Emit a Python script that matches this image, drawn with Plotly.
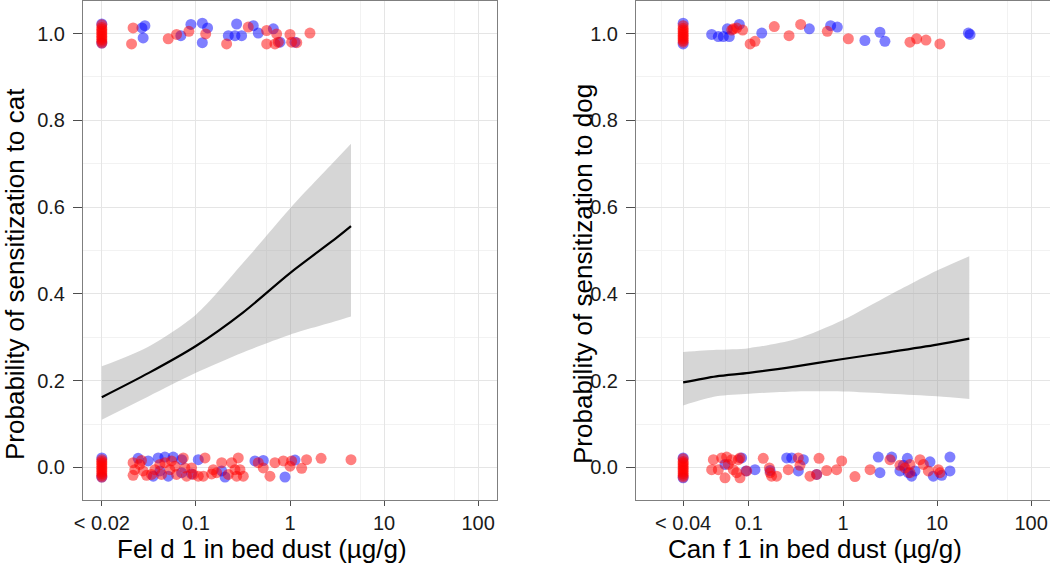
import plotly.graph_objects as go

# ---------------- data ----------------
# fitted curves (concentration in ug/g, probability)
cat_curve_x = [0.01, 0.0316, 0.1, 0.316, 1.0, 3.16, 4.45]
cat_fit = [0.162, 0.218, 0.280, 0.357, 0.448, 0.530, 0.556]
cat_upper = [0.233, 0.279, 0.352, 0.471, 0.597, 0.712, 0.746]
cat_lower = [0.110, 0.164, 0.218, 0.265, 0.306, 0.338, 0.348]

dog_curve_x = [0.02, 0.045, 0.1, 0.316, 1.0, 3.16, 10.0, 22.0]
dog_fit = [0.196, 0.210, 0.218, 0.233, 0.250, 0.266, 0.283, 0.297]
dog_upper = [0.266, 0.271, 0.275, 0.296, 0.340, 0.398, 0.454, 0.487]
dog_lower = [0.143, 0.164, 0.170, 0.175, 0.175, 0.170, 0.164, 0.158]

# observed (jittered) points - cat panel
cat_blue_x = [0.01, 0.01, 0.01, 0.01,
              0.0243, 0.0311, 0.0397, 0.0468, 0.0574, 0.0705, 0.106, 0.188, 0.204,
              0.424, 0.520, 1.13, 0.885, 0.0352, 0.0508, 0.0900, 0.0705, 0.0414,
              0.0287, 0.0267, 0.0275, 0.0885, 0.117, 0.133, 0.117, 0.0692, 0.221,
              0.271, 0.260, 0.306, 0.407, 0.460, 0.665, 0.783, 1.13]
cat_blue_y = [-0.022, 0.022, 0.978, 1.022,
              0.021, 0.015, 0.022, 0.024, 0.024, 0.018, 0.018, -0.008, -0.022,
              0.015, 0.016, 0.017, -0.022, -0.020, -0.020, -0.015, -0.012, -0.008,
              1.018, 1.013, 0.990, 1.021, 1.024, 1.013, 0.979, 0.995, 0.995,
              1.022, 0.995, 0.995, 1.018, 1.001, 1.011, 0.980, 0.980]
cat_red_x = [0.01, 0.01, 0.01, 0.01, 0.01, 0.01, 0.01, 0.01, 0.01, 0.01, 0.01,
             0.01, 0.01, 0.01, 0.01, 0.01, 0.01, 0.01, 0.01, 0.01, 0.01, 0.01,
             0.0215, 0.0224, 0.0215, 0.0264, 0.0275, 0.0299, 0.0337, 0.0366, 0.0414,
             0.0431, 0.0468, 0.0529, 0.0598, 0.0623, 0.0734, 0.0764, 0.0796, 0.0937,
             0.120, 0.125, 0.153, 0.166, 0.188, 0.221, 0.240, 0.271, 0.282, 0.319,
             0.294, 0.460, 0.520, 0.612, 0.692, 0.849, 1.00, 1.04, 1.33, 1.50,
             2.14, 4.45, 0.260, 0.147, 0.106, 0.0900, 0.0551, 0.0253,
             0.0215, 0.0207, 0.0508, 0.0623, 0.0842, 0.127, 0.212, 0.360, 0.565,
             0.565, 0.721, 0.692, 1.00, 1.04, 1.18, 1.63, 0.751]
cat_red_y = [-0.022, -0.018, -0.014, -0.010, -0.006, -0.002, 0.002, 0.006, 0.010, 0.014, 0.018,
             0.978, 0.982, 0.986, 0.990, 0.994, 0.998, 1.002, 1.006, 1.010, 1.014, 1.020,
             0.011, -0.005, -0.018, 0.016, -0.008, -0.018, -0.016, -0.005, 0.007,
             -0.016, 0.011, -0.005, 0.003, -0.016, 0.022, -0.001, -0.020, -0.016,
             -0.020, 0.022, -0.005, -0.012, 0.011, -0.016, 0.011, -0.020, 0.022, -0.020,
             -0.005, 0.011, -0.001, -0.020, 0.011, 0.015, 0.003, 0.015, -0.002, 0.018,
             0.021, 0.018, -0.005, -0.015, -0.020, -0.001, 0.015, 0.007,
             1.013, 0.976, 0.988, 0.998, 1.005, 0.999, 0.976, 1.015, 1.007,
             0.976, 0.999, 0.976, 0.998, 0.980, 0.979, 1.001, 0.980]

# observed (jittered) points - dog panel
dog_blue_x = [0.02, 0.02, 0.02, 0.02,
              0.0402, 0.0473, 0.0535, 0.0619, 0.0590, 0.0791, 0.137, 0.439, 0.739,
              0.870, 1.71, 2.47, 2.79, 21.5, 22.4,
              0.0557, 0.0837, 0.0931, 0.116, 0.168, 0.252, 0.285, 0.379, 0.335,
              0.525, 2.37, 2.47, 3.29, 4.03, 4.83, 4.94, 5.82, 8.40, 9.12, 11.2,
              13.7, 13.7, 4.38, 5.36]
dog_blue_y = [-0.024, 0.022, 0.976, 1.024,
              0.998, 0.993, 0.993, 0.993, 1.011, 1.021, 1.001, 1.011, 1.018,
              1.015, 0.984, 1.003, 0.982, 1.001, 0.998,
              0.007, 0.022, -0.008, -0.005, -0.007, 0.022, 0.022, 0.018, -0.008,
              -0.016, 0.024, -0.012, 0.024, -0.008, 0.021, -0.012, -0.008, 0.013, -0.020, -0.018,
              0.024, -0.008, 0.005, -0.020]
dog_red_x = [0.02, 0.02, 0.02, 0.02, 0.02, 0.02, 0.02, 0.02, 0.02, 0.02, 0.02,
             0.02, 0.02, 0.02, 0.02, 0.02, 0.02, 0.02, 0.02, 0.02, 0.02,
             0.0683, 0.0741, 0.0858, 0.103, 0.116, 0.186, 0.267, 0.355, 0.681,
             1.14, 5.15, 6.06, 7.62, 10.7, 0.0656,
             0.0419, 0.0513, 0.0580, 0.0656, 0.0772, 0.0804, 0.0402, 0.0473, 0.0557,
             0.0683, 0.0741, 0.0804, 0.142, 0.168, 0.174, 0.197, 0.165, 0.262,
             0.335, 0.349, 0.446, 0.525, 0.556, 0.670, 0.856, 0.968, 1.34, 1.94,
             3.16, 4.03, 4.56, 5.15, 5.15, 6.58, 7.14, 8.07, 10.3, 10.7, 0.0947, 0.0604]
dog_red_y = [-0.022, -0.018, -0.014, -0.010, -0.006, -0.002, 0.002, 0.006, 0.010, 0.014, 0.020,
             0.980, 0.984, 0.988, 0.992, 0.996, 1.000, 1.004, 1.008, 1.012, 1.018,
             1.011, 1.013, 1.008, 0.976, 0.982, 1.016, 0.995, 1.021, 1.005,
             0.988, 0.980, 0.988, 0.985, 0.976, 1.008,
             0.018, 0.022, 0.024, 0.018, 0.018, 0.022, -0.005, -0.005, -0.024,
             -0.005, -0.012, -0.024, 0.021, -0.012, -0.020, -0.020, -0.001, -0.005,
             0.022, 0.005, -0.020, -0.016, 0.021, -0.007, -0.005, 0.015, -0.021, -0.005,
             0.018, 0.005, -0.001, 0.007, -0.012, 0.018, 0.007, -0.008, -0.005, -0.012, -0.008, 0.007]

cat_tickvals = [0.01, 0.1, 1, 10, 100]
cat_ticktext = ["< 0.02", "0.1", "1", "10", "100"]
dog_tickvals = [0.02, 0.1, 1, 10, 100]
dog_ticktext = ["< 0.04", "0.1", "1", "10", "100"]
x_minor = [0.0562, 0.562, 5.62, 56.2]
dog_x_minor = [0.0117, 0.0562, 0.562, 5.62, 56.2]
y_tickvals = [0.0, 0.2, 0.4, 0.6, 0.8, 1.0]
y_minor = [0.1, 0.3, 0.5, 0.7, 0.9]

cat_xtitle = "Fel d 1 in bed dust (\u00b5g/g)"
dog_xtitle = "Can f 1 in bed dust (\u00b5g/g)"
cat_ytitle = "Probability of sensitization to cat"
dog_ytitle = "Probability of sensitization to dog"

# ---------------- figure ----------------
FONT = "Liberation Sans, Arial, sans-serif"
RED = "rgba(255,0,0,0.5)"
BLUE = "rgba(0,0,255,0.5)"
BAND = "rgba(153,153,153,0.4)"

fig = go.Figure()

def add_panel(xa, ya, cx, fit, lo, up, bx, by, rx, ry):
    fig.add_trace(go.Scatter(x=cx, y=lo, mode="lines",
                             line=dict(width=0, shape="spline", smoothing=0.8),
                             xaxis=xa, yaxis=ya, hoverinfo="skip", showlegend=False))
    fig.add_trace(go.Scatter(x=cx, y=up, mode="lines", fill="tonexty", fillcolor=BAND,
                             line=dict(width=0, shape="spline", smoothing=0.8),
                             xaxis=xa, yaxis=ya, hoverinfo="skip", showlegend=False))
    fig.add_trace(go.Scatter(x=cx, y=fit, mode="lines",
                             line=dict(color="black", width=2.2, shape="spline", smoothing=0.8),
                             xaxis=xa, yaxis=ya, showlegend=False))
    fig.add_trace(go.Scatter(x=bx, y=by, mode="markers",
                             marker=dict(color=BLUE, size=11, line=dict(width=0)),
                             xaxis=xa, yaxis=ya, showlegend=False))
    fig.add_trace(go.Scatter(x=rx, y=ry, mode="markers",
                             marker=dict(color=RED, size=11, line=dict(width=0)),
                             xaxis=xa, yaxis=ya, showlegend=False))

add_panel("x", "y", cat_curve_x, cat_fit, cat_lower, cat_upper,
          cat_blue_x, cat_blue_y, cat_red_x, cat_red_y)
add_panel("x2", "y2", dog_curve_x, dog_fit, dog_lower, dog_upper,
          dog_blue_x, dog_blue_y, dog_red_x, dog_red_y)

W, H = 1050, 568
ML, MR, MT, MB = 83, 0, 1, 68
PW = W - ML - MR
PH = H - MT - MB

common_x = dict(type="log", range=[-2.2, 2.2], showline=True, mirror=True, automargin=False,
                linecolor="#7f7f7f", linewidth=1, showgrid=True, gridcolor="#e5e5e5",
                gridwidth=1, zeroline=False, ticks="outside", ticklen=5,
                tickcolor="#4d4d4d", tickfont=dict(family=FONT, size=20, color="#1a1a1a"))
common_y = dict(range=[-0.075, 1.075], showline=True, mirror=True, linecolor="#7f7f7f",
                linewidth=1, showgrid=True, gridcolor="#e5e5e5", gridwidth=1, automargin=False,
                zeroline=False, ticks="outside", ticklen=9, tickcolor="#4d4d4d",
                ticklabelstandoff=4,
                tickvals=y_tickvals, tickformat=".1f",
                tickfont=dict(family=FONT, size=20, color="#1a1a1a"),
                minor=dict(tickvals=y_minor, showgrid=True, gridcolor="#f2f2f2", ticks=""))

fig.update_layout(
    width=W, height=H, margin=dict(l=ML, r=MR, t=MT, b=MB, autoexpand=False),
    paper_bgcolor="white", plot_bgcolor="white", showlegend=False,
    xaxis=dict(domain=[0, 414 / PW], anchor="y", tickvals=cat_tickvals, ticktext=cat_ticktext,
               minor=dict(tickvals=x_minor, showgrid=True, gridcolor="#f2f2f2", ticks=""),
               **common_x),
    yaxis=dict(domain=[0, 1], anchor="x", **common_y),
    xaxis2=dict(domain=[553 / PW, 1], anchor="y2", tickvals=dog_tickvals, ticktext=dog_ticktext,
                minor=dict(tickvals=dog_x_minor, showgrid=True, gridcolor="#f2f2f2", ticks=""),
                **common_x),
    yaxis2=dict(domain=[0, 1], anchor="x2", **common_y),
)

def px_x(p):
    return (p - ML) / PW

def px_y(p):
    return (H - MB - p) / PH

ann_font = dict(family=FONT, size=26, color="black")
fig.add_annotation(text=cat_xtitle, xref="paper", yref="paper", x=px_x(262), y=px_y(549),
                   showarrow=False, font=ann_font, xanchor="center", yanchor="middle")
fig.add_annotation(text=dog_xtitle, xref="paper", yref="paper", x=px_x(815), y=px_y(549),
                   showarrow=False, font=ann_font, xanchor="center", yanchor="middle")
fig.add_annotation(text=cat_ytitle, xref="paper", yref="paper", x=px_x(15), y=px_y(274),
                   showarrow=False, font=ann_font, textangle=-90, xanchor="center", yanchor="middle")
fig.add_annotation(text=dog_ytitle, xref="paper", yref="paper", x=px_x(583), y=px_y(274),
                   showarrow=False, font=ann_font, textangle=-90, xanchor="center", yanchor="middle")

# remove the default page margin so the figure sits at the window's top-left corner
fig.write_html("out.html", config={"displayModeBar": False},
               post_script="document.body.style.margin='0';")
